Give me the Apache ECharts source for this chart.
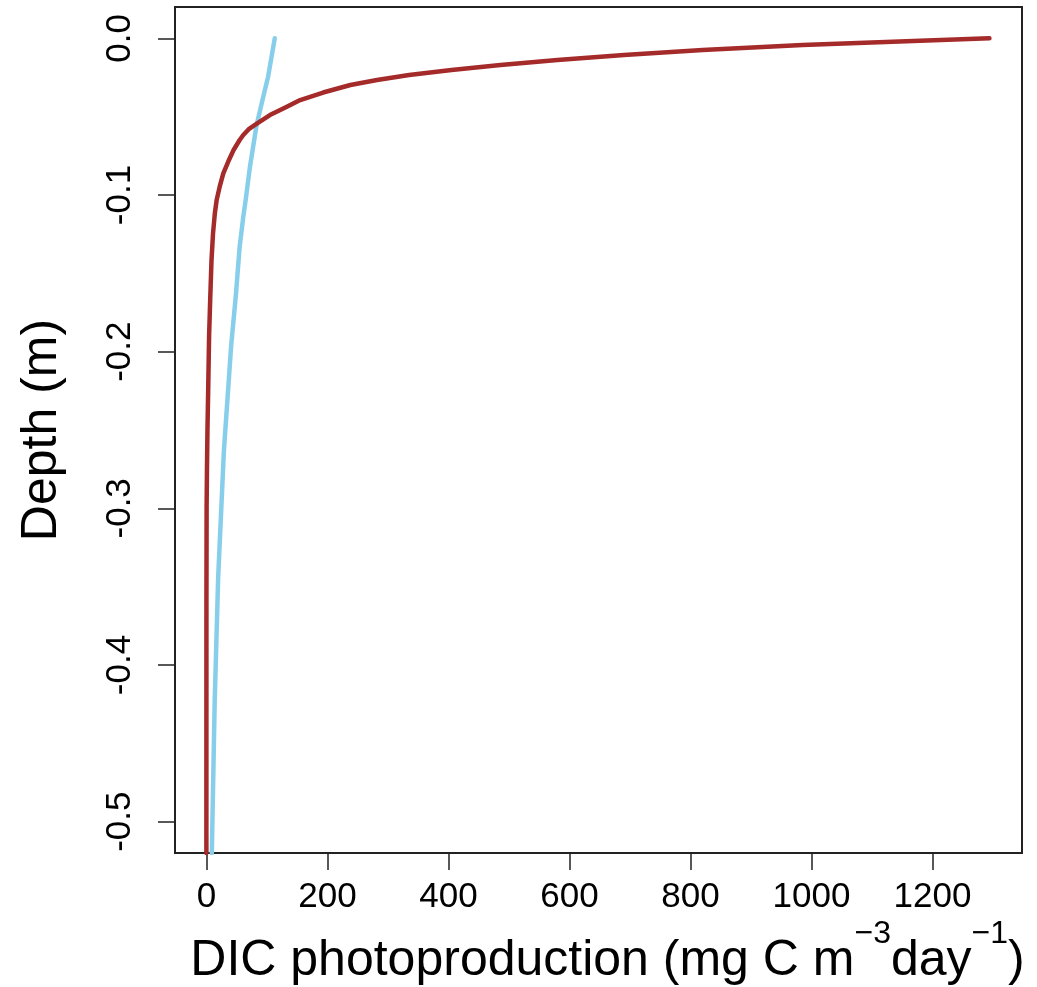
<!DOCTYPE html>
<html>
<head>
<meta charset="utf-8">
<script src="https://cdn.jsdelivr.net/npm/echarts@6/dist/echarts.min.js"></script>
<style>
html,body{margin:0;padding:0;background:#fff;}
#chart{width:1037px;height:987px;}
</style>
</head>
<body>
<div id="chart"></div>
<script>
// Red (brown) profile: depth (m) and DIC photoproduction
const redDepth = [0, -0.0043, -0.0075, -0.0107, -0.0139, -0.0170, -0.0202, -0.0234, -0.0266, -0.0298, -0.0346, -0.0394, -0.0437, -0.0490, -0.0543, -0.0580, -0.0617, -0.0649, -0.0713, -0.0788, -0.0862, -0.0947, -0.1032, -0.1117, -0.1245, -0.1415, -0.1670, -0.1900, -0.2245, -0.2500, -0.2740, -0.3000, -0.3600, -0.52];
const redProd  = [1294, 985, 820, 690, 580, 486, 405, 335, 282, 238, 193, 155, 133, 105, 84, 70, 61, 55, 45, 36, 28, 22, 17, 14, 11, 8.5, 6.3, 4.5, 3, 1.8, 1, 0.4, 0.1, 0];
// Blue (skyblue) profile
const blueDepth = [0, -0.0245, -0.0373, -0.0553, -0.082, -0.103, -0.1139, -0.133, -0.1628, -0.196, -0.263, -0.344, -0.424, -0.52];
const blueProd  = [113, 102, 94, 83, 72, 65, 61, 55, 49, 41, 29, 19.5, 13.7, 9];
// Ticks
const xTicks = [0, 200, 400, 600, 800, 1000, 1200];
const yTicks = [0, -0.1, -0.2, -0.3, -0.4, -0.5];

const FONT = 'Liberation Sans, Arial, sans-serif';
const pairs = (xs, ys) => xs.map((x, i) => [x, ys[i]]);

const chart = echarts.init(document.getElementById('chart'), null, {renderer: 'canvas'});
chart.setOption({
  animation: false,
  backgroundColor: '#fff',
  grid: {left: 175, right: 15, top: 7, bottom: 134, containLabel: false, outerBoundsMode: 'none',
    show: true, borderColor: '#222', borderWidth: 2, backgroundColor: 'transparent'},
  xAxis: {
    type: 'value', min: -51.84, max: 1347.84,
    axisLine: {show: true, onZero: false, lineStyle: {color: '#222', width: 2}},
    splitLine: {show: false},
    axisTick: {show: true, length: 17, customValues: xTicks, lineStyle: {color: '#222', width: 1.5}},
    axisLabel: {customValues: xTicks, fontSize: 35, fontFamily: FONT, color: '#000', margin: 27,
      formatter: v => String(v)},
    name: '{a|DIC photoproduction (mg C m}{s|−3}{a|day}{s|−1}{a|)}',
    nameLocation: 'middle', nameGap: 65, nameMoveOverlap: false,
    nameTextStyle: {
      fontSize: 50, fontFamily: FONT, color: '#000', padding: [0, 0, 0, 18],
      rich: {
        a: {fontSize: 50, fontFamily: FONT, color: '#000', verticalAlign: 'bottom'},
        s: {fontSize: 32, fontFamily: FONT, color: '#000', verticalAlign: 'top', padding: [0, 0, 36, 0]}
      }
    }
  },
  yAxis: {
    type: 'value', min: -0.52, max: 0.02,
    axisLine: {show: true, onZero: false, lineStyle: {color: '#222', width: 2}},
    splitLine: {show: false},
    axisTick: {show: true, length: 17, customValues: yTicks, lineStyle: {color: '#222', width: 1.5}},
    axisLabel: {customValues: yTicks, rotate: 90, fontSize: 35, fontFamily: FONT, color: '#000', margin: 37,
      formatter: v => v.toFixed(1)},
    name: 'Depth (m)', nameLocation: 'middle', nameRotate: 90, nameGap: 108, nameMoveOverlap: false,
    nameTextStyle: {fontSize: 50, fontFamily: FONT, color: '#000'}
  },
  series: [
    {type: 'line', data: pairs(blueProd, blueDepth), showSymbol: false, symbol: 'none', smooth: false,
     lineStyle: {color: '#87CEEB', width: 4.5, cap: 'round', join: 'round'}, z: 2},
    {type: 'line', data: pairs(redProd, redDepth), showSymbol: false, symbol: 'none', smooth: false,
     lineStyle: {color: '#A52A2A', width: 4.5, cap: 'round', join: 'round'}, z: 3}
  ]
});
</script>
</body>
</html>
